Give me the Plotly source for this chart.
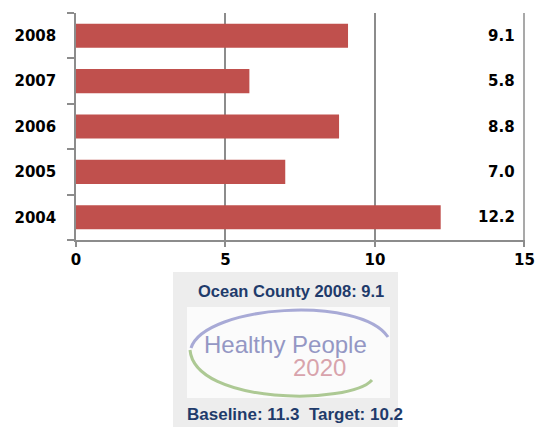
import plotly.graph_objects as go

years = ["2004", "2005", "2006", "2007", "2008"]
values = [12.2, 7.0, 8.8, 5.8, 9.1]
x_ticks = [0, 5, 10, 15]
county_text = "Ocean County 2008: 9.1"
target_text = "Baseline: 11.3  Target: 10.2"

W, H = 535, 427
L, R, T, B = 76, 10, 13, 187
PW, PH = W - L - R, H - T - B
PLOT_BOTTOM = H - B

def px(x):
    return (x - L) / PW

def py(y):
    return (PLOT_BOTTOM - y) / PH

BAR = "#C0504D"
GRID = "#8C8C8C"
FONT = "DejaVu Sans"

fig = go.Figure()
fig.add_trace(go.Bar(
    x=values, y=years, orientation="h",
    marker=dict(color=BAR, line=dict(width=0)),
    hoverinfo="skip", showlegend=False,
))

annotations = []
for i, v in enumerate(values):
    annotations.append(dict(
        x=14.75, y=i, xref="x", yref="y", text=f"{v:.1f}", showarrow=False,
        xanchor="right", yanchor="middle",
        font=dict(family=FONT, size=15, color="black", weight="bold"),
    ))

shapes = []
# gridline at the right end of the value axis (paper-level so it is not clipped)
shapes.append(dict(type="line", xref="paper", yref="paper",
                   x0=px(524), x1=px(524), y0=0, y1=1,
                   line=dict(color=GRID, width=1.5), layer="above"))
shapes.append(dict(type="rect", xref="paper", yref="paper",
                   x0=px(173), x1=px(398), y0=py(272), y1=py(427),
                   fillcolor="#EDEDED", line=dict(width=0), layer="below"))
shapes.append(dict(type="rect", xref="paper", yref="paper",
                   x0=px(187), x1=px(390), y0=py(307), y1=py(398),
                   fillcolor="#FBFBFB", line=dict(width=0), layer="below"))

def path(pts):
    (x0, y0), (x1, y1), (x2, y2), (x3, y3) = pts
    return (f"M {px(x0)},{py(y0)} C {px(x1)},{py(y1)} {px(x2)},{py(y2)} {px(x3)},{py(y3)}")

shapes.append(dict(type="path", xref="paper", yref="paper",
                   path=path([(191, 348), (205, 305), (360, 295), (388, 337)]),
                   line=dict(color="#A8AAD6", width=3)))
shapes.append(dict(type="path", xref="paper", yref="paper",
                   path=path([(190, 350), (195, 405), (350, 405), (372, 380)]),
                   line=dict(color="#ADC994", width=3)))

annotations += [
    dict(x=px(290.5), y=py(291), xref="paper", yref="paper", text=county_text,
         showarrow=False, xanchor="center", yanchor="middle",
         font=dict(family="Liberation Sans", size=16.5, color="#1F3B6B", weight="bold")),
    dict(x=px(285), y=py(344), xref="paper", yref="paper", text="Healthy People",
         showarrow=False, xanchor="center", yanchor="middle",
         font=dict(family="Liberation Sans", size=24, color="#9497C4")),
    dict(x=px(319), y=py(367), xref="paper", yref="paper", text="2020",
         showarrow=False, xanchor="center", yanchor="middle",
         font=dict(family="Liberation Sans", size=24, color="#D8A3AC")),
    dict(x=px(295), y=py(414), xref="paper", yref="paper", text=target_text,
         showarrow=False, xanchor="center", yanchor="middle",
         font=dict(family="Liberation Sans", size=17, color="#1F3B6B", weight="bold")),
]

fig.update_layout(
    width=W, height=H,
    margin=dict(l=L, r=R, t=T, b=B, pad=0, autoexpand=False),
    paper_bgcolor="white", plot_bgcolor="white",
    bargap=0.47,
    shapes=shapes, annotations=annotations,
    xaxis=dict(range=[0, 15.02], tickvals=x_ticks, ticktext=[str(t) for t in x_ticks],
               automargin=False,
               showgrid=True, gridcolor=GRID, gridwidth=1.5, zeroline=False,
               showline=True, linecolor=GRID, linewidth=1.5,
               ticks="outside", ticklen=5, tickcolor=GRID, tickwidth=1.5,
               tickfont=dict(family=FONT, size=15, color="black", weight="bold")),
    yaxis=dict(type="category", categoryorder="array", categoryarray=years,
               range=[-0.5, len(years) - 0.5], autorange=False, automargin=False,
               showgrid=False, zeroline=False,
               showline=True, linecolor=GRID, linewidth=1.5,
               ticks="outside", ticklen=7, tickcolor=GRID, tickwidth=1.5,
               tickson="boundaries", ticklabelstandoff=15,
               tickfont=dict(family=FONT, size=15, color="black", weight="bold")),
)

fig.write_html("out.html", config={"displayModeBar": False},
               post_script="document.body.style.margin='0';")
